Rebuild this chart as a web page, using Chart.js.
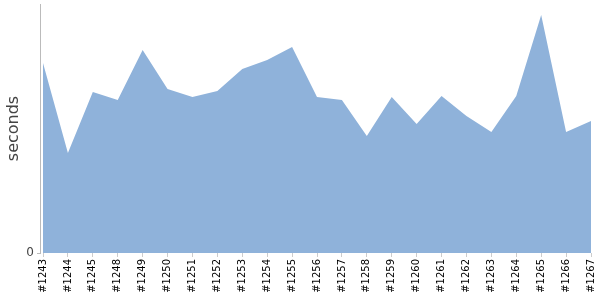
<!DOCTYPE html>
<html lang="en">
<head>
  <meta charset="UTF-8" />
  <title>Build durations</title>
  <script src="https://cdn.jsdelivr.net/npm/chart.js"></script>
  <style>
    body { margin: 0; background: #ffffff; }
    canvas { display: block; }
  </style>
</head>
<body>
  <canvas id="buildChart" width="600" height="300"></canvas>
  <script>
    // builds along the bottom
    const builds = ['#1243', '#1244', '#1245', '#1248', '#1249', '#1250', '#1251', '#1252',
      '#1253', '#1254', '#1255', '#1256', '#1257', '#1258', '#1259', '#1260', '#1261',
      '#1262', '#1263', '#1264', '#1265', '#1266', '#1267'];
    // duration per build (seconds)
    const durations = [190, 100, 161, 153, 203, 164, 156, 162, 184, 193, 206, 156, 153,
      117, 156, 129, 157, 137, 121, 157, 238, 121, 132];
    const yMax = 249;

    // y axis line sits a few px left of the first point
    const leftLine = {
      id: 'leftLine',
      afterDraw(chart) {
        const { ctx, chartArea } = chart;
        ctx.save();
        ctx.strokeStyle = '#bbbbbb';
        ctx.lineWidth = 1;
        ctx.beginPath();
        ctx.moveTo(chartArea.left - 2.5, chartArea.top);
        ctx.lineTo(chartArea.left - 2.5, chartArea.bottom + 1);
        ctx.moveTo(chartArea.left - 6, chartArea.bottom + 0.5);
        ctx.lineTo(chartArea.left - 2.5, chartArea.bottom + 0.5);
        ctx.stroke();
        ctx.restore();
      }
    };

    new Chart(document.getElementById('buildChart'), {
      type: 'line',
      data: {
        labels: builds,
        datasets: [{
          data: durations,
          backgroundColor: '#8fb2da',
          borderWidth: 0,
          pointRadius: 0,
          fill: 'origin',
          tension: 0
        }]
      },
      options: {
        responsive: false,
        animation: false,
        layout: { padding: { top: 4, right: 9, left: 0, bottom: 0 } },
        plugins: { legend: { display: false }, tooltip: { enabled: false } },
        scales: {
          x: {
            offset: false,
            afterFit(scale) {
              scale.height = 47;
              scale.paddingLeft = 0; scale.paddingRight = 0;
            },
            border: { display: false },
            grid: { drawOnChartArea: false, drawTicks: true, tickLength: 4, color: '#cccccc' },
            ticks: {
              autoSkip: false, maxRotation: 90, minRotation: 90, padding: 2,
              color: '#000000', font: { family: 'DejaVu Sans', size: 10 }
            }
          },
          y: {
            min: 0,
            max: yMax,
            afterBuildTicks(scale) { scale.ticks = [{ value: 0 }]; },
            afterFit(scale) {
              scale.width = 43;
              scale.paddingTop = 0; scale.paddingBottom = 0;
            },
            border: { display: false },
            grid: { display: false },
            ticks: { color: '#444444', padding: 1, font: { family: 'DejaVu Sans', size: 12 } },
            title: {
              display: true, text: 'seconds', color: '#444444',
              font: { family: 'DejaVu Sans', size: 16 }, padding: { top: 4, bottom: 0 }
            }
          }
        }
      },
      plugins: [leftLine]
    });
  </script>
</body>
</html>
